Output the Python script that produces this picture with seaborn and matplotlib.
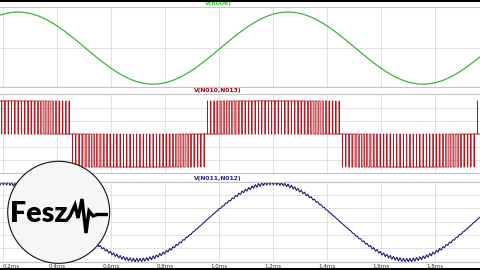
import numpy as np
import pandas as pd
import matplotlib
matplotlib.use("Agg")
import matplotlib.pyplot as plt
import seaborn as sns
from matplotlib.patches import Circle, Rectangle

# ---- values ----
panel_titles = ["V(n006)", "V(N010,N013)", "V(N011,N012)"]
tick_values = [0.2, 0.4, 0.6, 0.8, 1.0, 1.2, 1.4, 1.6, 1.8]          # ms
tick_labels = ["0.2ms", "0.4ms", "0.6ms", "0.8ms", "1.0ms", "1.2ms", "1.4ms", "1.6ms", "1.8ms"]
t_view = [0.1889, 1.9667]            # visible time window, ms
period_ms = 1.0                      # sine period
green_peak_ms = 0.2556               # time of a V(n006) maximum
ref_zero_up_ms = 0.948               # rising zero of the modulation reference
carrier_per_period = 82              # PWM pulses per sine period
green_amp = 1.0
pwm_level = 1.0
blue_amp = 1.0
blue_ripple = 0.045
hgrid_top = [0.0]
hgrid_mid = [-0.79, -0.39, 0.0, 0.39, 0.79]
hgrid_bot = [-0.69, -0.345, 0.0, 0.345, 0.69]

# ---- build the waveforms ----
t = np.linspace(t_view[0], t_view[1], 6000)
green = green_amp * np.cos(2 * np.pi * (t - green_peak_ms) / period_ms)
ref = np.sin(2 * np.pi * (t - ref_zero_up_ms) / period_ms)
Tc = period_ms / carrier_per_period
tri = 2 * np.abs(2 * ((t / Tc) % 1.0) - 1) - 1
blue = blue_amp * ref + blue_ripple * np.abs(ref) * tri

k0 = int(np.floor(t_view[0] / Tc)) - 1
k1 = int(np.ceil(t_view[1] / Tc)) + 1
px, py = [], []
for k in range(k0, k1):
    tcen = (k + 0.5) * Tc
    r = np.sin(2 * np.pi * (tcen - ref_zero_up_ms) / period_ms)
    d = abs(r)
    s = np.sign(r) * pwm_level
    px += [k * Tc, tcen - d * Tc / 2, tcen + d * Tc / 2]
    py += [0.0, s, 0.0]
pwm = pd.DataFrame({"t": px, "v": py})
df_green = pd.DataFrame({"t": t, "v": green})
df_blue = pd.DataFrame({"t": t, "v": blue})

# ---- figure ----
sns.set_theme(style="white")
plt.rcParams["font.family"] = ["DejaVu Sans"]
W, H = 480, 270
fig = plt.figure(figsize=(4.8, 2.7), dpi=100)
fig.patch.set_facecolor("white")

def fy(p):
    return 1 - p / H

panels = [(7, 87), (94, 173), (182, 262)]
ylims = [(-1.08, 1.14), (-1.18, 1.21), (-1.05, 1.03)]
hgrids = [hgrid_top, hgrid_mid, hgrid_bot]
axes = []
for (top, bot), yl, hg in zip(panels, ylims, hgrids):
    ax = fig.add_axes([0, fy(bot), 1, (bot - top) / H])
    ax.set_xlim(*t_view)
    ax.set_ylim(*yl)
    ax.set_facecolor("white")
    for sp in ["left", "right"]:
        ax.spines[sp].set_visible(False)
    for sp in ["top", "bottom"]:
        ax.spines[sp].set_color("#c4c4c4")
        ax.spines[sp].set_linewidth(0.8)
    ax.set_xticks(tick_values)
    ax.set_yticks(hg)
    ax.grid(True, color="#dcdcdc", linewidth=0.6)
    ax.tick_params(length=0, labelleft=False, labelbottom=False)
    axes.append(ax)

sns.lineplot(data=df_green, x="t", y="v", ax=axes[0], color="#3cb43c",
             linewidth=0.9, estimator=None, sort=False)
sns.lineplot(data=pwm, x="t", y="v", ax=axes[1], color="#b4141e",
             linewidth=0.6, estimator=None, sort=False, drawstyle="steps-post",
             snap=False)
sns.lineplot(data=df_blue, x="t", y="v", ax=axes[2], color="#1f1f78",
             linewidth=0.8, estimator=None, sort=False)
for ax in axes:
    ax.set_xlabel("")
    ax.set_ylabel("")

axes[2].set_xticks(tick_values)
axes[2].set_xticklabels(tick_labels)
axes[2].tick_params(labelbottom=True, labelsize=4, pad=1.5, labelcolor="#333333")
axes[2].get_xticklabels()[0].set_horizontalalignment("left")

# titles
title_cols = ["#33c033", "#a00010", "#202088"]
title_y = [3.9, 90.2, 178.2]
for txt, c, yy in zip(panel_titles, title_cols, title_y):
    fig.text(218 / W, fy(yy), txt, color=c, fontsize=4.3, fontweight="bold",
             ha="center", va="center", zorder=6)

# black bands
fig.patches.append(Rectangle((0, fy(2.3)), 1, 2.3 / H, transform=fig.transFigure,
                             facecolor="black", edgecolor="none", zorder=10))
fig.patches.append(Rectangle((0, 0), 1, 2.2 / H, transform=fig.transFigure,
                             facecolor="black", edgecolor="none", zorder=10))

# logo overlay
lg = fig.add_axes([0, 0, 1, 1], zorder=5)
lg.set_xlim(0, W)
lg.set_ylim(H, 0)
lg.axis("off")
lg.patch.set_alpha(0)
lg.add_patch(Circle((58.7, 212.3), 51.0, facecolor="#f6f6f6", edgecolor="#111111",
                    linewidth=0.8))
lg.text(10, 222, "Fesz", fontsize=20.5, fontweight="heavy", family=["Lato", "DejaVu Sans"],
        color="black", ha="left", va="baseline")
sq_x = [66, 70, 75, 78, 82, 86, 89, 93, 97, 108]
sq_y = [221, 216, 205, 218, 199, 233, 211, 216, 214.5, 214.5]
lg.plot(sq_x, sq_y, color="black", linewidth=2.4, solid_joinstyle="miter",
        solid_capstyle="butt")

fig.savefig("out.png", dpi=100)
